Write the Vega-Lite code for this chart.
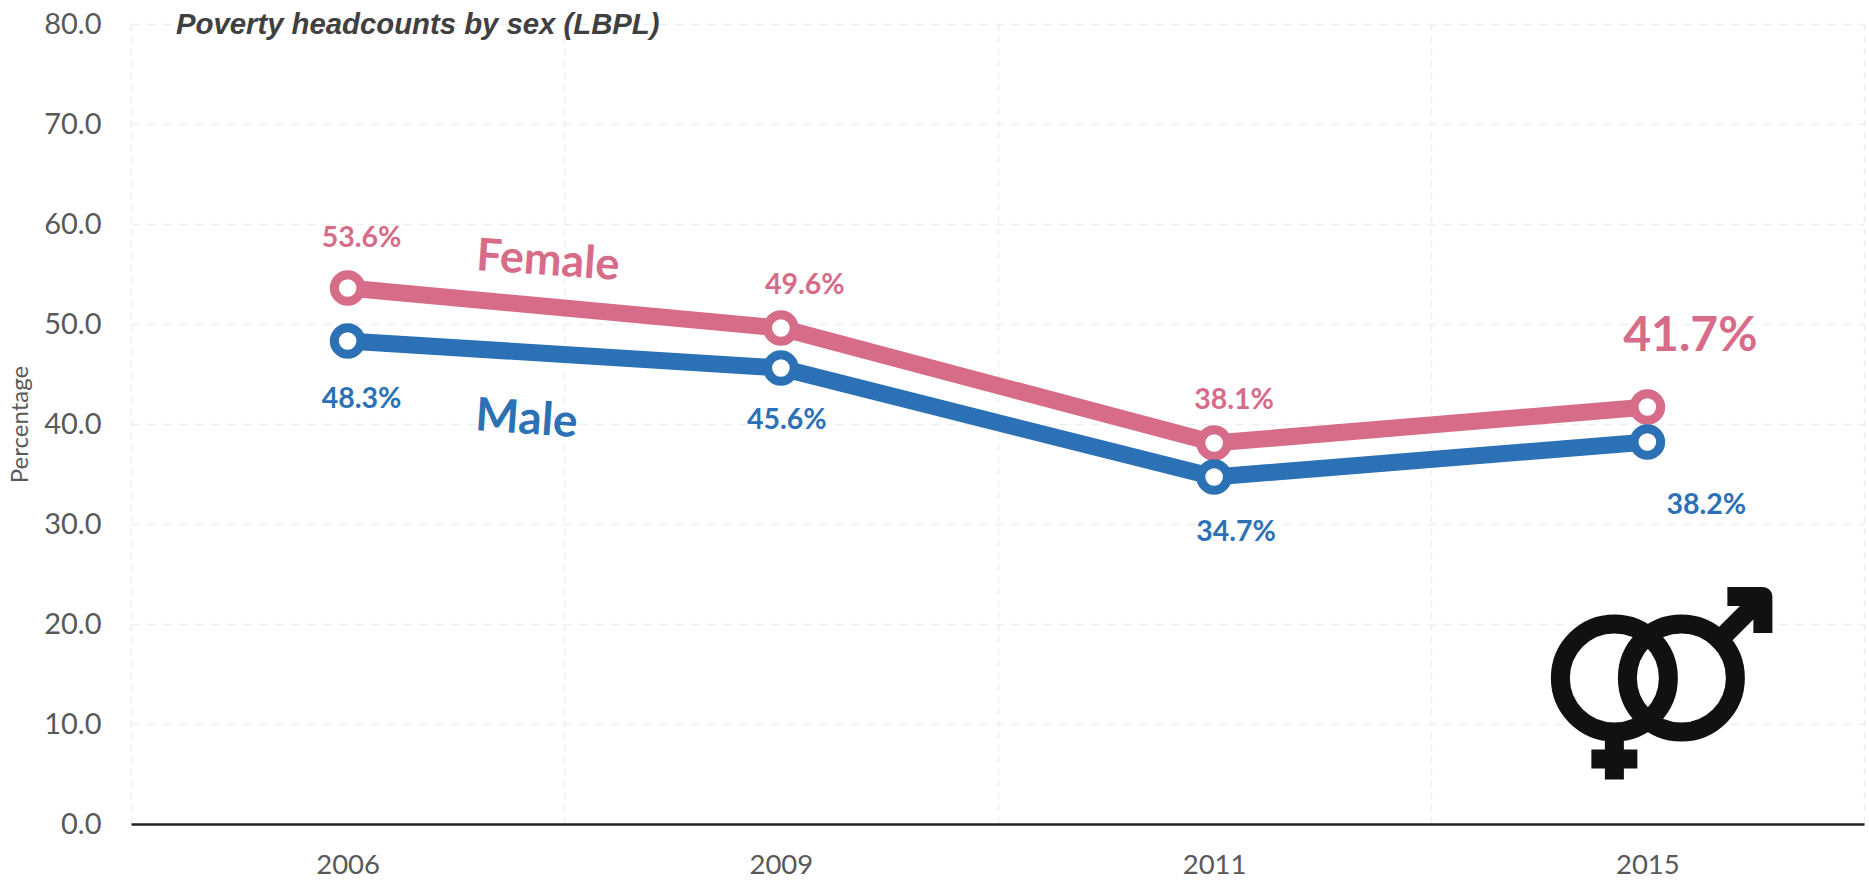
{
 "$schema":"https://vega.github.io/schema/vega-lite/v6.json",
 "autosize":"none","width":1733,"height":800,
 "padding":{"left":131,"top":24,"right":5,"bottom":57},
 "background":"white",
 "config":{"view":{"stroke":null},"font":"Lato"},
 "title":{"text":"Poverty headcounts by sex (LBPL)","anchor":"start","frame":"group","dx":45,"offset":-30,"font":"Liberation Sans","fontSize":29.3,"fontWeight":"bold","fontStyle":"italic","color":"#404040"},
 "data":{"values":[
  {"year":"2006","sex":"Female","value":53.6},{"year":"2009","sex":"Female","value":49.6},{"year":"2011","sex":"Female","value":38.1},{"year":"2015","sex":"Female","value":41.7},
  {"year":"2006","sex":"Male","value":48.3},{"year":"2009","sex":"Male","value":45.6},{"year":"2011","sex":"Male","value":34.7},{"year":"2015","sex":"Male","value":38.2}
 ]},
 "encoding":{
  "x":{"field":"year","type":"nominal","scale":{"paddingInner":0,"paddingOuter":0},"axis":{"title":null,"labelAngle":0,"tickBand":"extent","ticks":false,"domainColor":"#222222","domainWidth":2.5,"labelColor":"#595959","labelFont":"Lato","labelFontSize":27.5,"labelPadding":27,"gridColor":"#eeeeee","gridDash":[6,6],"gridWidth":1.5,"grid":true}},
  "y":{"field":"value","type":"quantitative","scale":{"domain":[0,80]},"axis":{"title":"Percentage","titleFont":"Lato","titleFontSize":24,"titleFontWeight":"normal","titleColor":"#595959","titlePadding":11,"values":[0,10,20,30,40,50,60,70,80],"format":".1f","domain":false,"ticks":false,"labelColor":"#595959","labelFont":"Lato","labelFontSize":29,"labelPadding":30,"gridColor":"#eeeeee","gridDash":[8,8],"gridWidth":1.5}},
  "color":{"field":"sex","type":"nominal","scale":{"domain":["Female","Male"],"range":["#D76C89","#2C71B5"]},"legend":null}
 },
 "layer":[
  {"mark":{"type":"line","strokeWidth":17},"encoding":{"detail":{"field":"sex"}}},
  {"mark":{"type":"point","filled":false,"fill":"white","fillOpacity":1,"size":707,"strokeWidth":9,"opacity":1}},
  {"transform":[{"filter":"datum.sex=='Female' && datum.year=='2006'"}],"mark":{"type":"text","dx":14,"dy":-50,"fontSize":28.5,"fontWeight":"bold","text":{"expr":"format(datum.value,'.1f')+'%'"}}},
  {"transform":[{"filter":"datum.sex=='Male' && datum.year=='2006'"}],"mark":{"type":"text","dx":14,"dy":58,"fontSize":28.5,"fontWeight":"bold","text":{"expr":"format(datum.value,'.1f')+'%'"}}},
  {"transform":[{"filter":"datum.sex=='Female' && datum.year=='2009'"}],"mark":{"type":"text","dx":24,"dy":-43,"fontSize":28.5,"fontWeight":"bold","text":{"expr":"format(datum.value,'.1f')+'%'"}}},
  {"transform":[{"filter":"datum.sex=='Male' && datum.year=='2009'"}],"mark":{"type":"text","dx":6,"dy":52,"fontSize":28.5,"fontWeight":"bold","text":{"expr":"format(datum.value,'.1f')+'%'"}}},
  {"transform":[{"filter":"datum.sex=='Female' && datum.year=='2011'"}],"mark":{"type":"text","dx":20,"dy":-43,"fontSize":28.5,"fontWeight":"bold","text":{"expr":"format(datum.value,'.1f')+'%'"}}},
  {"transform":[{"filter":"datum.sex=='Male' && datum.year=='2011'"}],"mark":{"type":"text","dx":22,"dy":55,"fontSize":28.5,"fontWeight":"bold","text":{"expr":"format(datum.value,'.1f')+'%'"}}},
  {"transform":[{"filter":"datum.sex=='Female' && datum.year=='2015'"}],"mark":{"type":"text","dx":43,"dy":-70,"fontSize":48,"fontWeight":"bold","text":{"expr":"format(datum.value,'.1f')+'%'"}}},
  {"transform":[{"filter":"datum.sex=='Male' && datum.year=='2015'"}],"mark":{"type":"text","dx":59,"dy":63,"fontSize":28.5,"fontWeight":"bold","text":{"expr":"format(datum.value,'.1f')+'%'"}}},
  {"transform":[{"filter":"datum.sex=='Female' && datum.year=='2006'"}],"mark":{"type":"text","text":"Female","dx":198,"dy":-41,"angle":4,"fontSize":45,"fontWeight":"bold"}},
  {"transform":[{"filter":"datum.sex=='Male' && datum.year=='2006'"}],"mark":{"type":"text","text":"Male","dx":184,"dy":66,"angle":4,"fontSize":46,"fontWeight":"bold"}},
  {"data":{"values":[{"year":"2015","value":14.6}]},
   "mark":{"type":"point","filled":false,"size":4,"xOffset":0.5,"strokeWidth":19,"strokeCap":"square","strokeJoin":"round","opacity":1,"shape":"M20.5,0A54,54,0,1,1,-87.5,0A54,54,0,1,1,20.5,0ZM87.5,0A54,54,0,1,1,-20.5,0A54,54,0,1,1,87.5,0ZM-33.5,54L-33.5,92M-47,81L-20,81M71.5,-38L105,-71.5M89,-81.5L115,-81.5L115,-54.5"},
   "encoding":{"color":{"value":"#111111"}}}
 ]
}
